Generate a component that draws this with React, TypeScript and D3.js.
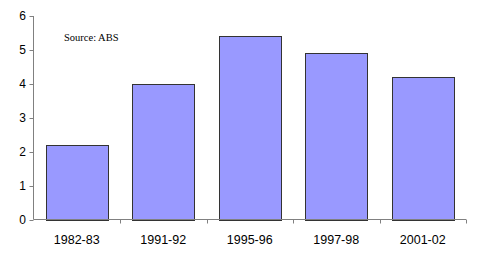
import React from "react";
import * as d3 from "d3";

const categories = ["1982-83", "1991-92", "1995-96", "1997-98", "2001-02"];
const values = [2.2, 4.0, 5.4, 4.9, 4.2];
const yTicks = [0, 1, 2, 3, 4, 5, 6];
const sourceNote = "Source: ABS";

const W = 481;
const H = 257;

export default function App() {
  const x = d3
    .scaleBand<string>()
    .domain(categories)
    .range([33.5, 466])
    .paddingInner(0.28)
    .paddingOuter(0.14);
  const y = d3.scaleLinear().domain([0, 6]).range([219.5, 16]);
  const step = x.step();
  const x0 = 33.5;
  const x1 = 466;

  return (
    <svg
      width={W}
      height={H}
      style={{ position: "absolute", left: 0, top: 0 }}
      fontFamily="'Liberation Sans', Arial, sans-serif"
    >
      <rect width={W} height={H} fill="#fff" />
      {categories.map((c, i) => (
        <rect
          key={c}
          x={Math.round(x(c)!) + 0.5}
          y={Math.round(y(values[i])) + 0.5}
          width={Math.round(x.bandwidth())}
          height={Math.round(y(0)) - Math.round(y(values[i]))}
          fill="#9999FF"
          stroke="#333333"
          strokeWidth={1}
        />
      ))}
      {/* y axis */}
      <line x1={x0} x2={x0} y1={y(6)} y2={y(0)} stroke="#808080" />
      {yTicks.map((t) => (
        <g key={t}>
          <line x1={x0 - 4} x2={x0} y1={Math.round(y(t)) + 0.5} y2={Math.round(y(t)) + 0.5} stroke="#808080" />
          <text x={26} y={y(t)} dy="0.35em" textAnchor="end" fontSize={12} fill="#000">
            {t}
          </text>
        </g>
      ))}
      {/* x axis */}
      <line x1={x0} x2={x1} y1={y(0)} y2={y(0)} stroke="#808080" />
      {categories.map((c, i) => (
        <line
          key={"t" + c}
          x1={Math.round(x0 + step * (i + 1)) + 0.5}
          x2={Math.round(x0 + step * (i + 1)) + 0.5}
          y1={y(0)}
          y2={y(0) + 4}
          stroke="#808080"
        />
      ))}
      {categories.map((c) => (
        <text
          key={"l" + c}
          x={x(c)! + x.bandwidth() / 2}
          y={244}
          textAnchor="middle"
          fontSize={12.5}
          fill="#000"
        >
          {c}
        </text>
      ))}
      <text
        x={64}
        y={41}
        fontSize={10.5}
        fontFamily="'Liberation Serif', 'Times New Roman', serif"
        fill="#000"
      >
        {sourceNote}
      </text>
    </svg>
  );
}
